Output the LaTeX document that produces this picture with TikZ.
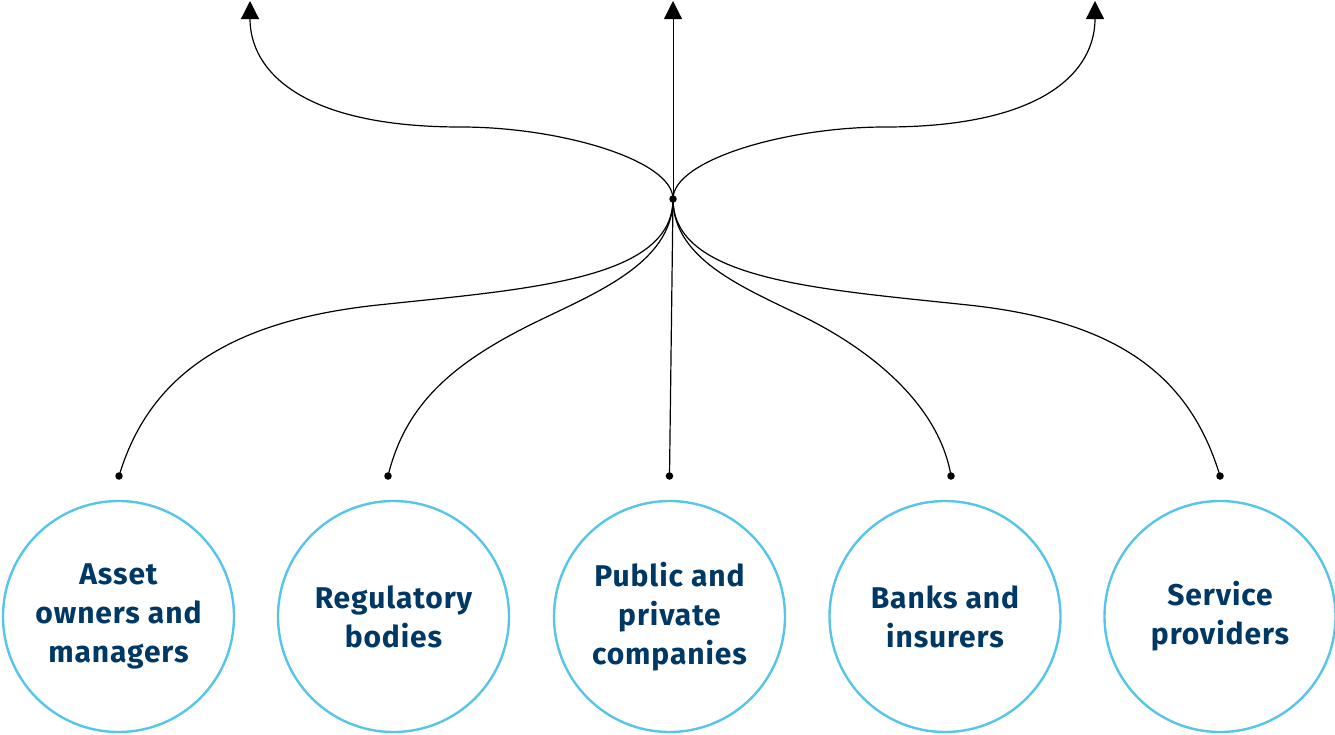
\documentclass[tikz,border=0pt]{standalone}
\usepackage{fontspec}
\setmainfont{Fira Sans}[LetterSpace=3]
\usetikzlibrary{arrows.meta}
\definecolor{ring}{RGB}{86,197,232}
\definecolor{navy}{RGB}{0,56,101}
\begin{document}
\begin{tikzpicture}[x=1pt,y=-1pt,
  party/.style={circle,draw=ring,line width=2.4pt,minimum size=231pt,inner sep=0pt,align=center,text=navy,font=\fontsize{30}{39}\selectfont\bfseries},
  dotn/.style={circle,fill=black,inner sep=0pt,minimum size=7.5pt},
  link/.style={line width=1.2pt,black},
  uplink/.style={link,-{Triangle[width=18pt,length=18pt]}}]
\useasboundingbox (0,0) rectangle (1335,734);
% circles
\node[party] (c1) at (118.5,616.5) {Asset\\owners and\\managers};
\node[party] (c2) at (393.5,616.5) {Regulatory\\bodies};
\node[party] (c3) at (669.5,616.5) {Public and\\private\\companies};
\node[party] (c4) at (945,616.5) {Banks and\\insurers};
\node[party] (c5) at (1220,616.5) {Service\\providers};
% dots
\node[dotn] (h) at (673,199) {};
\node[dotn] (d1) at (119,476) {};
\node[dotn] (d2) at (388,476) {};
\node[dotn] (d3) at (669.5,476) {};
\node[dotn] (d4) at (951,476) {};
\node[dotn] (d5) at (1220,476) {};
% waypoints and arrow tips
\coordinate (m1) at (378,305);
\coordinate (m2) at (530,325);
\coordinate (m4) at (810,320);
\coordinate (m5) at (968,305);
\coordinate (t1) at (250,1);
\coordinate (t2) at (673,1);
\coordinate (t3) at (1095,1);
\coordinate (u1) at (461,127);
\coordinate (u3) at (885,127);
% lower connectors
\draw[link] (h.center) .. controls (673,280) and (528,289) .. (m1) .. controls (228,321) and (149,376) .. (d1.center);
\draw[link] (h.center) .. controls (673,265) and (590,295) .. (m2) .. controls (450,365) and (405,406) .. (d2.center);
\draw[link] (h.center) -- (d3.center);
\draw[link] (h.center) .. controls (673,262) and (750,290) .. (m4) .. controls (880,356) and (940,410) .. (d4.center);
\draw[link] (h.center) .. controls (673,280) and (818,289) .. (m5) .. controls (1118,321) and (1190,376) .. (d5.center);
% upper connectors
\draw[uplink] (h.center) .. controls (673,160) and (560,127) .. (u1) .. controls (300,127) and (250,70) .. (t1);
\draw[uplink,line width=1pt] (h.center) -- (t2);
\draw[uplink] (h.center) .. controls (673,160) and (786,127) .. (u3) .. controls (1046,127) and (1095,70) .. (t3);
\end{tikzpicture}
\end{document}
